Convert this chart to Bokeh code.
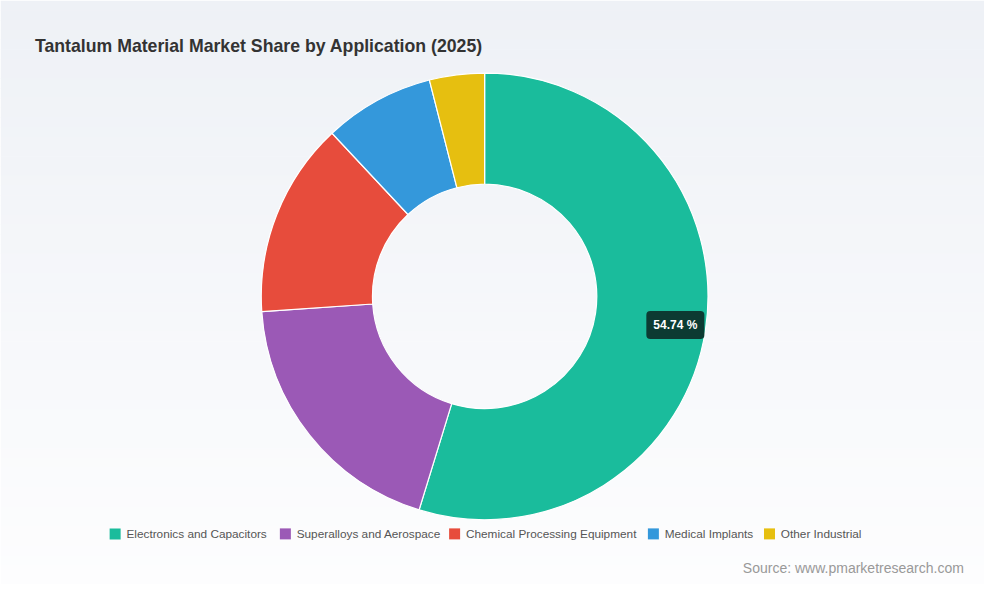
import math
from bokeh.plotting import figure
from bokeh.models import Range1d, Label
from bokeh.core.properties import value
from bokeh.embed import file_html
from bokeh.resources import INLINE

# ---- data ----
categories = ["Electronics and Capacitors", "Superalloys and Aerospace",
              "Chemical Processing Equipment", "Medical Implants", "Other Industrial"]
shares = [54.74, 19.18, 14.11, 7.99, 3.98]
colors = ["#1abc9c", "#9b59b6", "#e74c3c", "#3498db", "#e6bf10"]
title_text = "Tantalum Material Market Share by Application (2025)"
source_text = "Source: www.pmarketresearch.com"

# ---- layout (reference-frame coordinates, y measured from top) ----
W, H = 1000, 600
PW, PH = 984, 584
CX, CY = 492, 304
R_OUT, R_IN = 227, 114
LABEL_R = 196
legend_x = [111, 284, 456, 658, 776]
legend_y = 548

def sy(y):
    return H - y

p = figure(width=PW, height=PH, output_backend="svg",
           toolbar_location=None, x_range=Range1d(0, W),
           y_range=Range1d(0, H), min_border=0)
p.axis.visible = False
p.grid.visible = False
p.outline_line_color = None
p.background_fill_color = "#ffffff"
p.border_fill_color = "#ffffff"

# background gradient
top = (238, 241, 246)
bot = (253, 253, 254)
n = 60
lefts, rights, tops, bots, cols = [], [], [], [], []
for i in range(n):
    t = i / (n - 1)
    c = tuple(int(round(top[k] + (bot[k] - top[k]) * t)) for k in range(3))
    y0 = H * i / n
    y1 = H * (i + 1) / n
    lefts.append(0); rights.append(W)
    tops.append(sy(y0)); bots.append(sy(y1) - 0.6)
    cols.append("#%02x%02x%02x" % c)
p.quad(left=lefts, right=rights, top=tops, bottom=bots, fill_color=cols, line_color=None)

# donut
total = sum(shares)
starts, ends = [], []
cum = 0.0
for s in shares:
    a0 = math.pi / 2 - 2 * math.pi * cum / total
    cum += s
    a1 = math.pi / 2 - 2 * math.pi * cum / total
    starts.append(a0)
    ends.append(a1)
p.annular_wedge(x=CX, y=sy(CY), inner_radius=R_IN, outer_radius=R_OUT,
                start_angle=starts, end_angle=ends, direction="clock",
                fill_color=colors, line_color="#ffffff", line_width=1.2)

# label for largest slice
mid = (starts[0] + ends[0]) / 2
lx = CX + LABEL_R * math.cos(mid)
ly = sy(CY) + LABEL_R * math.sin(mid) * (PW / W) / (PH / H)
lab = Label(x=lx, y=ly, text="%.2f %%" % shares[0], text_align="center",
            text_baseline="middle", text_color="#ffffff", text_font_style="bold",
            text_font_size="12px", text_font="Liberation Sans",
            background_fill_color="#0c3b32", background_fill_alpha=1.0,
            border_radius=4, padding=7)
p.add_layout(lab)

# title
p.text(x=[35], y=[sy(47)], text=[title_text], text_font=value("Liberation Sans"),
       text_font_size="17.7px", text_font_style="bold", text_color="#333333",
       text_baseline="middle", text_align="left")

# legend
sq = 11
p.rect(x=[x + sq / 2 for x in legend_x], y=[sy(legend_y)] * len(legend_x),
       width=sq, height=sq, width_units="screen", height_units="screen",
       fill_color=colors, line_color=None)
p.text(x=[x + 17 for x in legend_x], y=[sy(legend_y)] * len(legend_x), text=categories,
       text_font=value("Liberation Sans"), text_font_size="11.8px", text_color="#555555",
       text_baseline="middle", text_align="left")

# source
p.text(x=[979], y=[sy(583)], text=[source_text], text_font=value("Liberation Sans"),
       text_font_size="14px", text_color="#999999", text_baseline="middle", text_align="right")

open("out.html", "w").write(file_html(p, INLINE))
